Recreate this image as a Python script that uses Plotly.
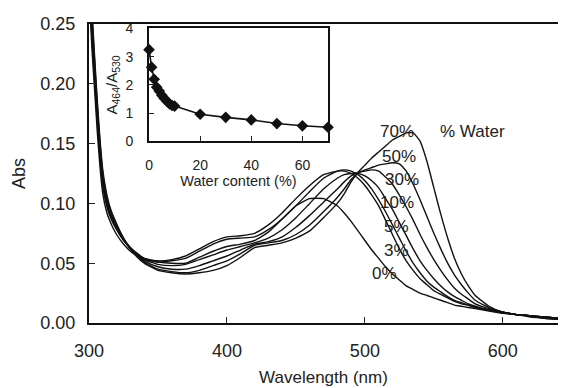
import plotly.graph_objects as go

# ---------------- data ----------------
wavelength = [300, 302, 304, 306, 308, 310, 313, 316, 320, 325, 330, 335, 340,
              350, 360, 370, 380, 390, 400, 410, 420, 430, 440, 450, 460, 470,
              480, 485, 490, 495, 500, 505, 510, 515, 520, 525, 530, 535, 540,
              545, 550, 555, 560, 565, 570, 575, 580, 590, 600, 610, 620, 630, 640]

abs_0 = [0.280, 0.232, 0.196, 0.160, 0.130, 0.108, 0.092, 0.083, 0.074, 0.066, 0.060, 0.056, 0.053,
         0.051, 0.050, 0.050, 0.055, 0.060, 0.064, 0.066, 0.069, 0.076, 0.087, 0.098, 0.104, 0.104,
         0.098, 0.092, 0.085, 0.077, 0.069, 0.061, 0.054, 0.047, 0.041, 0.036, 0.031, 0.028, 0.025,
         0.023, 0.021, 0.019, 0.017, 0.015, 0.014, 0.013, 0.012, 0.010, 0.008, 0.007, 0.006, 0.004, 0.003]

abs_3 = [0.290, 0.240, 0.204, 0.168, 0.138, 0.114, 0.097, 0.087, 0.078, 0.069, 0.063, 0.058, 0.054,
         0.052, 0.053, 0.056, 0.062, 0.068, 0.072, 0.073, 0.075, 0.082, 0.092, 0.104, 0.115, 0.124,
         0.127, 0.127, 0.125, 0.121, 0.115, 0.107, 0.098, 0.086, 0.074, 0.062, 0.052, 0.044, 0.037,
         0.032, 0.027, 0.024, 0.021, 0.018, 0.016, 0.015, 0.013, 0.011, 0.009, 0.007, 0.006, 0.005, 0.004]

abs_5 = [0.295, 0.245, 0.208, 0.172, 0.141, 0.117, 0.099, 0.089, 0.079, 0.070, 0.063, 0.058, 0.054,
         0.051, 0.052, 0.054, 0.060, 0.066, 0.070, 0.071, 0.072, 0.078, 0.087, 0.098, 0.110, 0.121,
         0.127, 0.128, 0.127, 0.124, 0.119, 0.112, 0.103, 0.093, 0.082, 0.071, 0.060, 0.050, 0.042,
         0.035, 0.030, 0.026, 0.022, 0.019, 0.017, 0.015, 0.013, 0.011, 0.009, 0.007, 0.006, 0.005, 0.004]

abs_10 = [0.300, 0.250, 0.212, 0.175, 0.144, 0.120, 0.101, 0.090, 0.080, 0.070, 0.063, 0.057, 0.053,
          0.049, 0.048, 0.049, 0.053, 0.057, 0.061, 0.064, 0.067, 0.071, 0.078, 0.088, 0.100, 0.112,
          0.121, 0.124, 0.125, 0.125, 0.123, 0.119, 0.113, 0.104, 0.095, 0.084, 0.073, 0.062, 0.052,
          0.044, 0.037, 0.031, 0.026, 0.022, 0.019, 0.016, 0.014, 0.011, 0.009, 0.007, 0.006, 0.005, 0.004]

abs_30 = [0.305, 0.255, 0.216, 0.178, 0.147, 0.122, 0.103, 0.091, 0.081, 0.070, 0.062, 0.056, 0.052,
          0.047, 0.045, 0.045, 0.048, 0.052, 0.056, 0.061, 0.066, 0.068, 0.072, 0.080, 0.090, 0.101,
          0.112, 0.118, 0.123, 0.126, 0.127, 0.128, 0.127, 0.122, 0.116, 0.107, 0.097, 0.086, 0.074,
          0.063, 0.053, 0.044, 0.036, 0.029, 0.024, 0.020, 0.016, 0.012, 0.009, 0.007, 0.006, 0.005, 0.004]

abs_50 = [0.310, 0.260, 0.220, 0.182, 0.150, 0.125, 0.105, 0.093, 0.082, 0.071, 0.062, 0.056, 0.051,
          0.045, 0.043, 0.042, 0.044, 0.048, 0.052, 0.058, 0.065, 0.067, 0.069, 0.074, 0.082, 0.093,
          0.105, 0.112, 0.120, 0.125, 0.128, 0.130, 0.132, 0.133, 0.134, 0.133, 0.127, 0.116, 0.103,
          0.089, 0.075, 0.062, 0.050, 0.040, 0.032, 0.025, 0.019, 0.013, 0.009, 0.007, 0.006, 0.005, 0.004]

abs_70 = [0.315, 0.265, 0.224, 0.186, 0.153, 0.128, 0.107, 0.094, 0.083, 0.071, 0.062, 0.055, 0.050,
          0.044, 0.042, 0.041, 0.042, 0.044, 0.048, 0.055, 0.063, 0.065, 0.067, 0.071, 0.077, 0.088,
          0.100, 0.108, 0.118, 0.126, 0.132, 0.138, 0.143, 0.148, 0.153, 0.156, 0.159, 0.159, 0.152,
          0.135, 0.113, 0.091, 0.071, 0.054, 0.041, 0.031, 0.023, 0.014, 0.009, 0.007, 0.005, 0.004, 0.003]

series = [abs_0, abs_3, abs_5, abs_10, abs_30, abs_50, abs_70]

curve_labels = ["0%", "3%", "5%", "10%", "30%", "50%", "70%"]
label_x = [514, 523, 523, 523, 527, 525, 523]
label_y = [0.041, 0.061, 0.081, 0.101, 0.120, 0.139, 0.160]

legend_title = "% Water"
legend_pos = (578, 0.160)

# inset data
water_content = [0, 1, 2, 3, 4, 5, 6, 7, 8, 9, 10, 20, 30, 40, 50, 60, 70]
ratio_464_530 = [3.25, 2.63, 2.20, 1.92, 1.78, 1.63, 1.52, 1.42, 1.33, 1.27, 1.25,
                 0.96, 0.85, 0.76, 0.63, 0.55, 0.50]

main_xticks = [300, 400, 500, 600]
main_yticks = [0.00, 0.05, 0.10, 0.15, 0.20, 0.25]
inset_xticks = [0, 20, 40, 60]
inset_yticks = [0, 1, 2, 3, 4]

# ---------------- figure ----------------
FONT = "Liberation Sans, Arial, sans-serif"
TXT = "#222222"

fig = go.Figure()
for ys in series:
    fig.add_trace(go.Scatter(x=wavelength, y=ys, mode="lines",
                             line=dict(color="#111111", width=1.4, shape="spline", smoothing=0.5),
                             xaxis="x", yaxis="y", showlegend=False, hoverinfo="skip"))

fig.add_trace(go.Scatter(x=water_content, y=ratio_464_530, mode="lines+markers",
                         line=dict(color="#111111", width=1.6),
                         marker=dict(symbol="diamond", size=9, color="#111111"),
                         xaxis="x2", yaxis="y2", showlegend=False, cliponaxis=False,
                         hoverinfo="skip"))

annotations = []
for t, x, y in zip(curve_labels, label_x, label_y):
    annotations.append(dict(x=x, y=y, xref="x", yref="y", text=t, showarrow=False,
                            font=dict(family=FONT, size=17, color=TXT)))
annotations.append(dict(x=legend_pos[0], y=legend_pos[1], xref="x", yref="y",
                        text=legend_title, showarrow=False,
                        font=dict(family=FONT, size=17, color=TXT)))

inset_x0, inset_x1 = 0.128, 0.5096
inset_y0, inset_y1 = 0.6076, 0.985

fig.update_layout(
    width=562, height=388,
    margin=dict(l=89, r=4, t=24, b=62),
    paper_bgcolor="white", plot_bgcolor="white",
    font=dict(family=FONT, color=TXT),
    annotations=annotations,
    shapes=[dict(type="rect", xref="paper", yref="paper",
                 x0=inset_x0, x1=inset_x1, y0=inset_y0, y1=inset_y1,
                 fillcolor="white", line=dict(width=0), layer="below")],
    xaxis=dict(range=[300, 640], tickvals=main_xticks, ticks="inside", ticklen=6,
               tickcolor="#222", showline=True, linecolor="#111", linewidth=2,
               mirror=True, showgrid=False, zeroline=False,
               tickfont=dict(size=18), ticklabelstandoff=10,
               title=dict(text="Wavelength (nm)", font=dict(size=17), standoff=12)),
    yaxis=dict(range=[0, 0.25], tickvals=main_yticks, tickformat=".2f", ticks="inside",
               ticklen=6, tickcolor="#222", showline=True, linecolor="#111", linewidth=2,
               showgrid=False, zeroline=False, tickfont=dict(size=18), ticklabelstandoff=8,
               title=dict(text="Abs", font=dict(size=18), standoff=10)),
    xaxis2=dict(domain=[inset_x0, inset_x1], anchor="y2", range=[0, 70],
                tickvals=inset_xticks, ticks="inside", ticklen=5, tickcolor="#222",
                showline=True, linecolor="#111", linewidth=2, mirror=True,
                showgrid=False, zeroline=False, tickfont=dict(size=14),
                ticklabelstandoff=10,
                title=dict(text="Water content (%)", font=dict(size=14.5), standoff=2)),
    yaxis2=dict(domain=[inset_y0, inset_y1], anchor="x2", range=[0, 4],
                tickvals=inset_yticks, ticks="inside", ticklen=5, tickcolor="#222",
                showline=True, linecolor="#111", linewidth=2, mirror=True,
                showgrid=False, zeroline=False, tickfont=dict(size=14),
                ticklabelstandoff=11,
                title=dict(text="A<sub>464</sub>/A<sub>530</sub>", font=dict(size=15), standoff=4)),
)

fig.write_html("out.html")
